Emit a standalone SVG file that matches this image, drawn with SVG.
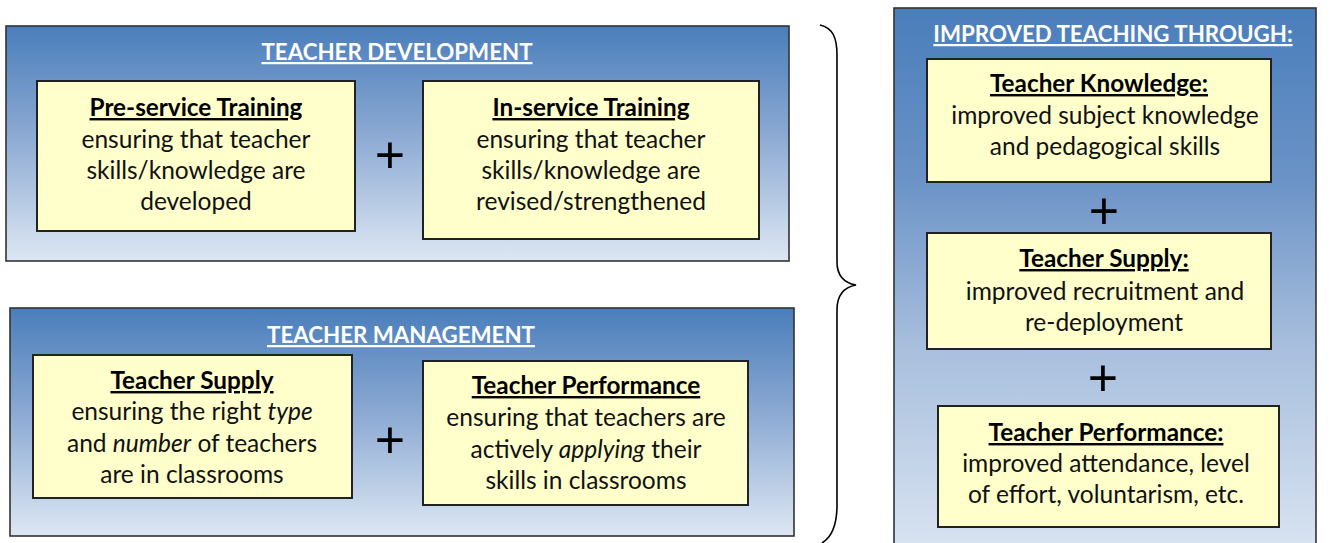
<svg xmlns="http://www.w3.org/2000/svg" width="1335" height="543" viewBox="0 0 1335 543">
  <defs>
    <linearGradient id="panelFill" x1="0" y1="0" x2="0" y2="1">
      <stop offset="0" stop-color="#4a7ebb"/>
      <stop offset="0.45" stop-color="#8aa8d2"/>
      <stop offset="1" stop-color="#dde7f3"/>
    </linearGradient>
    <linearGradient id="tallFill" x1="0" y1="0" x2="0" y2="1">
      <stop offset="0" stop-color="#4a7ebb"/>
      <stop offset="0.3" stop-color="#6a92c6"/>
      <stop offset="0.6" stop-color="#a7bedd"/>
      <stop offset="1" stop-color="#dde7f3"/>
    </linearGradient>
  </defs>
  <style>
    .panel { stroke: #333; stroke-width: 1.6; }
    .card { fill: #ffffcc; stroke: #222; stroke-width: 2; }
    text { font-family: Lato, "Liberation Sans", sans-serif; text-anchor: middle; }
    .title { font-size: 22.3px; font-weight: bold; fill: #fff; text-decoration: underline; }
    .head { font-size: 24.3px; font-weight: bold; fill: #000; text-decoration: underline; }
    .body { font-size: 24.5px; fill: #111; }
    .plus { font-family: "Liberation Sans", sans-serif; font-size: 52px; fill: #000; }
    .brace { fill: none; stroke: #000; stroke-width: 1.6; }
  </style>

  <rect width="1335" height="543" fill="#fff"/>

  <!-- Teacher development -->
  <g id="teacher-development">
    <rect class="panel" x="6" y="26" width="783" height="235" fill="url(#panelFill)"/>
    <text class="title" x="397" y="60">TEACHER DEVELOPMENT</text>
  </g>
  <g id="pre-service">
    <rect class="card" x="37" y="81" width="318" height="150"/>
    <text class="head" x="196" y="116">Pre-service Training</text>
    <text class="body" x="196" y="148">ensuring that teacher</text>
    <text class="body" x="196" y="179">skills/knowledge are</text>
    <text class="body" x="196" y="210">developed</text>
  </g>
  <g id="in-service">
    <rect class="card" x="423" y="81" width="336" height="158"/>
    <text class="head" x="591" y="116">In-service Training</text>
    <text class="body" x="591" y="148">ensuring that teacher</text>
    <text class="body" x="591" y="179">skills/knowledge are</text>
    <text class="body" x="591" y="210">revised/strengthened</text>
  </g>

  <!-- Teacher management -->
  <g id="teacher-management">
    <rect class="panel" x="10" y="308" width="784" height="228" fill="url(#panelFill)"/>
    <text class="title" x="401" y="343">TEACHER MANAGEMENT</text>
  </g>
  <g id="supply">
    <rect class="card" x="33" y="355" width="319" height="143"/>
    <text class="head" x="192" y="389">Teacher Supply</text>
    <text class="body" x="192" y="420">ensuring the right <tspan font-style="italic">type</tspan></text>
    <text class="body" x="192" y="452">and <tspan font-style="italic">number</tspan> of teachers</text>
    <text class="body" x="192" y="483">are in classrooms</text>
  </g>
  <g id="performance">
    <rect class="card" x="423" y="361" width="325" height="144"/>
    <text class="head" x="586" y="394">Teacher Performance</text>
    <text class="body" x="586" y="426">ensuring that teachers are</text>
    <text class="body" x="586" y="458">actively <tspan font-style="italic">applying</tspan> their</text>
    <text class="body" x="586" y="489">skills in classrooms</text>
  </g>

  <!-- Improved teaching -->
  <g id="improved-teaching">
    <rect class="panel" x="894" y="8" width="422" height="560" fill="url(#tallFill)"/>
    <text class="title" x="1113" y="42">IMPROVED TEACHING THROUGH:</text>
  </g>
  <g id="knowledge">
    <rect class="card" x="927" y="59" width="344" height="123"/>
    <text class="head" x="1099" y="92">Teacher Knowledge:</text>
    <text class="body" x="1105" y="124">improved subject knowledge</text>
    <text class="body" x="1105" y="155">and pedagogical skills</text>
  </g>
  <g id="supply-result">
    <rect class="card" x="927" y="233" width="344" height="116"/>
    <text class="head" x="1104" y="267">Teacher Supply:</text>
    <text class="body" x="1105" y="300">improved recruitment and</text>
    <text class="body" x="1104" y="331">re-deployment</text>
  </g>
  <g id="performance-result">
    <rect class="card" x="938" y="406" width="341" height="121"/>
    <text class="head" x="1106" y="441">Teacher Performance:</text>
    <text class="body" x="1106" y="472">improved attendance, level</text>
    <text class="body" x="1106" y="503">of effort, voluntarism, etc.</text>
  </g>

  <!-- Plus signs and brace -->
  <g id="connectors">
    <text class="plus" x="390" y="173">+</text>
    <text class="plus" x="390" y="458">+</text>
    <text class="plus" x="1104" y="229">+</text>
    <text class="plus" x="1103" y="396">+</text>
    <path class="brace" d="M820,25 C833,28 837,38 837,55 L837,262 C837,276 845,283 856,285 C845,287 837,294 837,310 L837,505 C837,525 832,537 822,543"/>
  </g>
</svg>
